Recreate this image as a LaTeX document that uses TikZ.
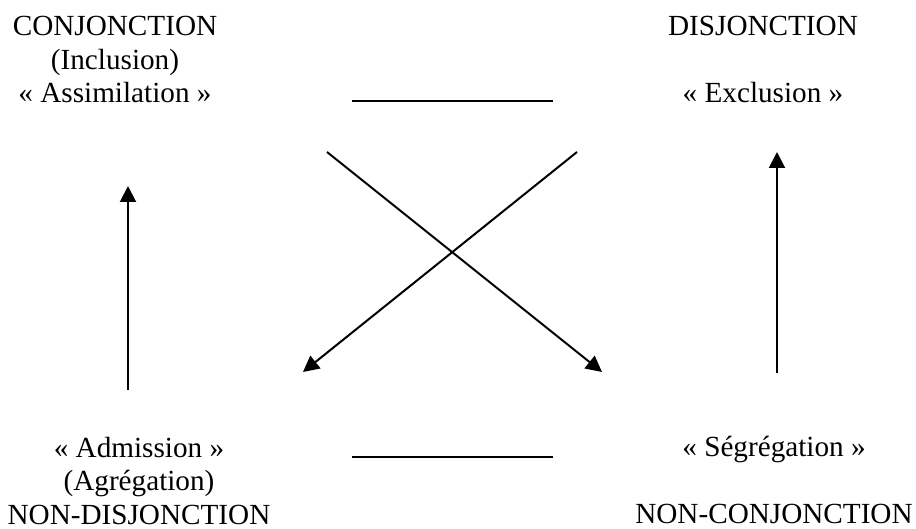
\documentclass[tikz,border=0pt]{standalone}
\usepackage{fontspec}
\setmainfont{Liberation Serif}
\usetikzlibrary{arrows.meta}

\tikzset{
  lbl/.style={align=center, inner sep=0pt, anchor=base, font=\fontsize{14.6}{16.75}\selectfont},
  arr/.style={-{Triangle[length=8pt,width=8pt]}},
}

\begin{document}
\begin{tikzpicture}[x=0.5pt, y=-0.5pt, line width=1pt]
      \useasboundingbox (0,0) rectangle (916,529);
      % the four corners of the square (base = last line)
      \node[lbl] (conj) at (115,103) {CONJONCTION\\(Inclusion)\\« Assimilation »};
      \node[lbl] (disj) at (763,103) {DISJONCTION\\[16.75pt]« Exclusion »};
      \node[lbl] (nondisj) at (139,524) {« Admission »\\(Agrégation)\\NON-DISJONCTION};
      \node[lbl] (nonconj) at (774,523) {« Ségrégation »\\[16.75pt]NON-CONJONCTION};
      % free ends of the connectors
      \coordinate (top1) at (352,101);   \coordinate (top2) at (553,101);
      \coordinate (bot1) at (352,457);   \coordinate (bot2) at (553,457);
      \coordinate (left1) at (128,390);  \coordinate (left2) at (128,186);
      \coordinate (right1) at (777,373); \coordinate (right2) at (777,152);
      \coordinate (diagA1) at (327,152); \coordinate (diagA2) at (602,372);
      \coordinate (diagB1) at (577,152); \coordinate (diagB2) at (303,372);
      \draw (top1) -- (top2);
      \draw (bot1) -- (bot2);
      \draw[arr] (left1) -- (left2);
      \draw[arr] (right1) -- (right2);
      \draw[arr] (diagA1) -- (diagA2);
      \draw[arr] (diagB1) -- (diagB2);
\end{tikzpicture}
\end{document}
